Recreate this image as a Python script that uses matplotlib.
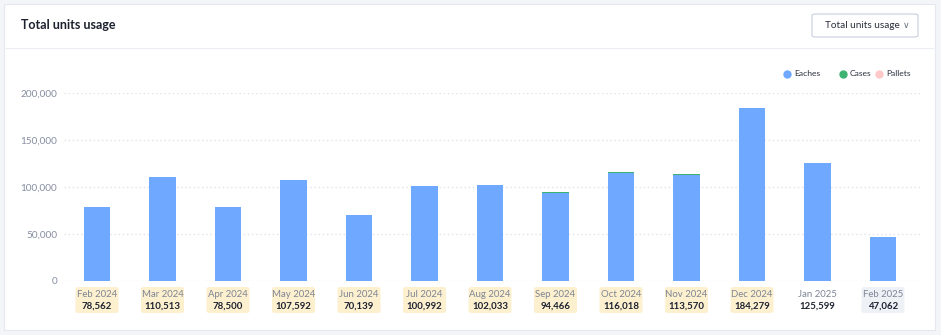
import matplotlib.pyplot as plt
from matplotlib.patches import FancyBboxPatch, Rectangle

plt.rcParams['font.family'] = ['Lato', 'DejaVu Sans']

months = ["Feb 2024", "Mar 2024", "Apr 2024", "May 2024", "Jun 2024", "Jul 2024",
          "Aug 2024", "Sep 2024", "Oct 2024", "Nov 2024", "Dec 2024", "Jan 2025",
          "Feb 2025"]
totals = [78562, 110513, 78500, 107592, 70139, 100992, 102033, 94466, 116018,
          113570, 184279, 125599, 47062]
cases = [150, 150, 100, 150, 100, 150, 150, 900, 1100, 1000, 200, 400, 100]
pallets = [0, 0, 0, 0, 0, 0, 0, 0, 0, 0, 0, 0, 0]
eaches = [t - c - p for t, c, p in zip(totals, cases, pallets)]
box_colors = ["#fdf0cf"] * 11 + [None, "#eef1f6"]

W, H = 941, 335
fig = plt.figure(figsize=(W / 100, H / 100), dpi=100)
fig.patch.set_facecolor("#f4f5f9")


def fx(px):
    return px / W


def fy(py):
    return 1 - py / H


# card + header
card = Rectangle((fx(4), fy(330)), fx(931), (326) / H, transform=fig.transFigure,
                 facecolor="white", edgecolor="#e6e8ef", linewidth=0.8, zorder=-2)
fig.patches.append(card)
fig.add_artist(plt.Line2D([fx(4), fx(935)], [fy(48), fy(48)], color="#eceef4",
                          linewidth=0.8, transform=fig.transFigure))
fig.text(fx(21), fy(25), "Total units usage", fontsize=9, fontweight="bold",
         color="#1d2230", va="center")
dd = FancyBboxPatch((fx(812), fy(37)), fx(106), 23 / H, transform=fig.transFigure,
                    boxstyle="round,pad=0,rounding_size=0.004", facecolor="white",
                    edgecolor="#c8cedd", linewidth=0.8, zorder=-1)
fig.patches.append(dd)
fig.text(fx(825), fy(25.5), "Total units usage", fontsize=7.2, color="#2a2f3c", va="center")
fig.text(fx(906), fy(25.5), "\u2228", fontsize=6.5, color="#6b7283", va="center",
         ha="center")

ax = fig.add_axes([fx(64), fy(281), fx(920) - fx(64), (281 - 93) / H])
ax.set_zorder(1)
ax.set_facecolor("none")
x = list(range(len(months)))
bw = 0.4
ax.bar(x, eaches, width=bw, color="#6ea8ff", zorder=3)
ax.bar(x, cases, width=bw, bottom=eaches, color="#3cb371", zorder=3)
ax.bar(x, pallets, width=bw, bottom=[e + c for e, c in zip(eaches, cases)],
       color="#ffc9c9", zorder=3)

ax.set_xlim(-0.504, 12.565)
ax.set_ylim(0, 200000)
ax.set_yticks([0, 50000, 100000, 150000, 200000])
ax.set_yticklabels(["0", "50,000", "100,000", "150,000", "200,000"])
ax.tick_params(axis="y", length=0, pad=5, labelsize=7.2, labelcolor="#858ea1")
ax.set_xticks([])
ax.grid(axis="y", color="#dfe2e9", linestyle=(0, (1, 2)), linewidth=1, zorder=0)
for s in ax.spines.values():
    s.set_visible(False)

# month labels with value badges
fig.canvas.draw()
for i, (m, t, bc) in enumerate(zip(months, totals, box_colors)):
    px = ax.transData.transform((i, 0))[0]
    cx = px / W
    if bc:
        box = FancyBboxPatch((cx - 21.5 / W, fy(313)), 43 / W, 26 / H,
                             transform=fig.transFigure,
                             boxstyle="round,pad=0,rounding_size=0.004",
                             facecolor=bc, edgecolor="none", zorder=-1)
        fig.patches.append(box)
    fig.text(cx, fy(294.5), m, fontsize=6.9, color="#7d8494", ha="center", va="center")
    fig.text(cx, fy(306), f"{t:,}", fontsize=6.9, color="#1d2230", ha="center",
             va="center", fontweight="bold")

# legend
for lx, name, c in [(787, "Eaches", "#6ea8ff"), (843, "Cases", "#3cb371"),
                    (879, "Pallets", "#ffc9c9")]:
    fig.add_artist(plt.Line2D([fx(lx)], [fy(73.5)], marker="o", markersize=5,
                              color=c, linestyle="none", transform=fig.transFigure))
    fig.text(fx(lx + 7), fy(73.5), name, fontsize=6.1, color="#2a2f3c", va="center")

fig.savefig("out.png", dpi=100)
